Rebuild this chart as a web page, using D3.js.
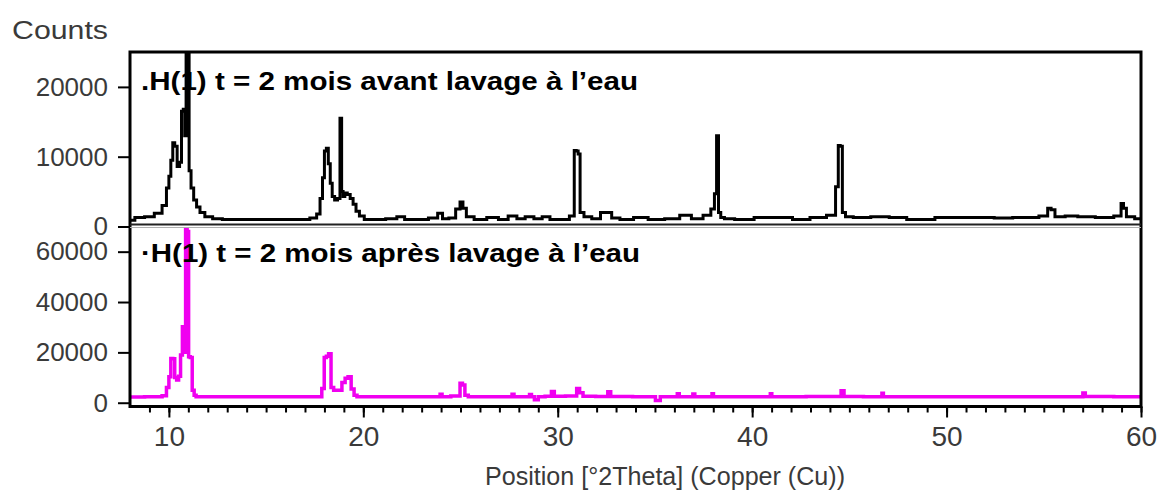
<!DOCTYPE html>
<html>
<head>
<meta charset="utf-8">
<script src="https://cdn.jsdelivr.net/npm/d3@7/dist/d3.min.js"></script>
<style>
  html, body { margin: 0; padding: 0; background: #fff; }
  svg { display: block; }
  text { font-family: "Liberation Sans", Arial, sans-serif; }
</style>
</head>
<body>
<svg id="chart" width="1161" height="492"></svg>
<script>
// ---------- data ----------
const topTitle = ".H(1) t = 2 mois avant lavage à l\u2019eau";
const botTitle = "\u00b7H(1) t = 2 mois après lavage à l\u2019eau";
const yLabel = "Counts";
const xLabel = "Position [°2Theta] (Copper (Cu))";

const xTicks = [10, 20, 30, 40, 50, 60];
const topYTicks = [0, 10000, 20000];
const botYTicks = [0, 20000, 40000, 60000];

const topTheta = [8.0, 8.5, 9.0, 9.5, 9.8, 9.95, 10.05, 10.15, 10.25, 10.35, 10.5, 10.6, 10.7, 10.78, 10.85, 10.92, 11.0, 11.08, 11.2, 11.35, 11.5, 11.7, 12.0, 12.5, 13, 14, 15, 16, 17, 17.5, 17.7, 17.85, 17.95, 18.05, 18.15, 18.25, 18.35, 18.45, 18.6, 18.75, 18.85, 18.92, 19.0, 19.1, 19.25, 19.4, 19.55, 19.7, 19.9, 20.2, 20.8, 21.5, 21.95, 22.3, 23.0, 23.7, 23.95, 24.2, 24.6, 24.9, 25.05, 25.2, 25.4, 26.0, 26.7, 27.2, 27.7, 28.1, 28.55, 29.0, 29.4, 29.8, 30.4, 30.8, 30.9, 31.0, 31.1, 31.2, 31.5, 32.0, 32.4, 32.65, 32.9, 33.5, 34.3, 35.0, 36.0, 36.55, 37.2, 37.75, 38.0, 38.12, 38.22, 38.32, 38.45, 38.7, 39.5, 40.7, 41.65, 42.5, 43.45, 44.2, 44.38, 44.48, 44.58, 44.7, 44.9, 45.5, 46.7, 47.4, 48.5, 50.3, 51.7, 53.2, 53.6, 54.4, 55.1, 55.3, 55.45, 55.7, 56.5, 57.0, 58.3, 58.9, 59.05, 59.15, 59.35, 60];
const topCounts = [900, 1300, 1400, 1900, 3000, 5500, 7200, 9500, 12000, 11500, 8600, 9200, 16500, 16800, 13000, 29000, 26000, 8000, 5500, 3800, 2800, 2000, 1400, 1100, 1000, 1000, 1000, 1000, 1000, 1200, 1800, 4000, 7000, 10800, 11200, 9000, 6200, 4300, 3800, 4000, 15500, 5000, 4300, 4800, 4600, 4000, 3200, 2200, 1500, 1000, 1000, 1100, 1400, 1000, 1000, 1200, 1900, 1100, 1200, 2500, 3500, 2600, 1400, 1000, 1300, 1000, 1500, 1100, 1400, 1100, 1400, 1000, 1000, 1500, 10900, 10800, 10400, 2000, 1400, 1100, 2000, 2000, 1200, 1000, 1300, 1000, 1100, 1600, 1100, 1600, 2500, 4700, 13000, 2000, 1300, 1100, 1000, 1300, 1300, 1000, 1300, 1600, 5700, 11600, 11500, 2000, 1400, 1300, 1400, 1300, 1000, 1300, 1300, 1200, 1300, 1300, 1500, 2600, 2400, 1400, 1500, 1400, 1300, 1500, 3300, 2600, 1400, 1100];

const botTheta = [8.0, 9.5, 9.8, 9.95, 10.05, 10.15, 10.25, 10.35, 10.45, 10.55, 10.65, 10.74, 10.82, 10.9, 10.98, 11.05, 11.15, 11.25, 11.35, 11.45, 12, 17.8, 17.93, 18.05, 18.15, 18.28, 18.4, 18.55, 18.8, 19.0, 19.13, 19.3, 19.45, 19.6, 19.75, 23.9, 24.0, 24.1, 24.9, 25.05, 25.15, 25.3, 25.5, 27.6, 27.7, 27.8, 28.5, 28.6, 28.7, 28.9, 29.1, 29.6, 29.75, 29.9, 30.9, 31.05, 31.2, 31.4, 32.5, 32.65, 32.8, 34.9, 35.15, 35.4, 36.1, 36.2, 36.3, 36.9, 37.0, 37.1, 37.9, 37.97, 38.05, 40.9, 40.97, 41.05, 44.5, 44.65, 44.8, 46.65, 46.7, 46.8, 56.95, 57.07, 57.2, 60];
const botCounts = [2300, 2400, 2800, 6000, 10300, 17600, 17500, 10000, 9000, 10500, 19000, 30200, 20000, 69000, 68000, 18300, 18000, 5000, 3000, 2400, 2400, 2400, 5700, 18000, 18500, 19500, 6000, 5000, 5000, 8000, 9700, 10300, 5500, 3000, 2400, 2400, 3400, 2400, 2700, 7700, 7000, 3000, 2400, 2400, 3400, 2400, 2400, 3300, 2400, 1200, 2400, 2600, 4500, 2600, 2700, 5700, 4000, 2600, 2500, 4400, 2500, 2400, 900, 2400, 2400, 3600, 2400, 2400, 3500, 2400, 2400, 3600, 2400, 2400, 3600, 2400, 2500, 4800, 2500, 2400, 3800, 2400, 2400, 3900, 2500, 2400];

// ---------- layout ----------
const svg = d3.select("#chart");
const left = 130, right = 1141;
const plotTop = 52, sepY = 224.5, plotBottom = 406.5;

const x = d3.scaleLinear().domain([8, 60]).range([left, right]);
const yTop = d3.scaleLinear().domain([0, 25000]).range([226.5, 52]);
const yBot = d3.scaleLinear().domain([-1300, 69400]).range([406, 228]);

const labelColor = "#3a3a3a";

// clip paths
const defs = svg.append("defs");
defs.append("clipPath").attr("id", "clipTop").append("rect")
  .attr("x", left).attr("y", plotTop).attr("width", right - left).attr("height", sepY - plotTop);
defs.append("clipPath").attr("id", "clipBot").append("rect")
  .attr("x", left).attr("y", sepY + 1).attr("width", right - left).attr("height", plotBottom - sepY - 1);

// lines
const topData = topTheta.map((t, i) => [t, topCounts[i]]);
const botData = botTheta.map((t, i) => [t, botCounts[i]]);

svg.append("path")
  .datum(topData)
  .attr("clip-path", "url(#clipTop)")
  .attr("fill", "none")
  .attr("stroke", "#000")
  .attr("stroke-width", 3)
  .attr("d", d3.line().x(d => x(d[0])).y(d => yTop(d[1])).curve(d3.curveStep));

svg.append("path")
  .datum(botData)
  .attr("clip-path", "url(#clipBot)")
  .attr("fill", "none")
  .attr("stroke", "#f000f0")
  .attr("stroke-width", 3.5)
  .attr("d", d3.line().x(d => x(d[0])).y(d => yBot(d[1])).curve(d3.curveStep));

// frame (outer) and separator between panels
svg.append("rect")
  .attr("x", left).attr("y", plotTop).attr("width", right - left).attr("height", plotBottom - plotTop)
  .attr("fill", "none").attr("stroke", "#000").attr("stroke-width", 3);
svg.append("line")
  .attr("x1", left).attr("x2", right).attr("y1", sepY).attr("y2", sepY)
  .attr("stroke", "#222").attr("stroke-width", 2.2);
svg.append("line")
  .attr("x1", left).attr("x2", right).attr("y1", sepY + 3).attr("y2", sepY + 3)
  .attr("stroke", "#b0b0b0").attr("stroke-width", 1);

// y axes
function styleAxis(g, size) {
  g.select(".domain").remove();
  g.selectAll(".tick line").attr("stroke", "#000").attr("stroke-width", 2);
  g.selectAll(".tick text").attr("fill", labelColor).style("font-size", size + "px")
    .style("font-family", "'Liberation Sans', Arial, sans-serif");
}
svg.append("g").attr("transform", `translate(${left},0)`)
  .call(d3.axisLeft(yTop).tickValues(topYTicks).tickFormat(d3.format("d")).tickSize(12).tickPadding(10))
  .call(g => styleAxis(g, 26));
svg.append("g").attr("transform", `translate(${left},0)`)
  .call(d3.axisLeft(yBot).tickValues(botYTicks).tickFormat(d3.format("d")).tickSize(12).tickPadding(10))
  .call(g => styleAxis(g, 26));

// x axis: minor + major
svg.append("g").attr("transform", `translate(0,${plotBottom})`)
  .call(d3.axisBottom(x).tickValues(d3.range(9, 61)).tickSize(6).tickFormat(""))
  .call(g => styleAxis(g, 10));
svg.append("g").attr("transform", `translate(0,${plotBottom})`)
  .call(d3.axisBottom(x).tickValues(xTicks).tickSize(11).tickPadding(9).tickFormat(d3.format("d")))
  .call(g => styleAxis(g, 28));

// texts
svg.append("text").attr("x", 12).attr("y", 39).attr("fill", labelColor)
  .attr("textLength", 96).attr("lengthAdjust", "spacingAndGlyphs")
  .style("font-size", "26px").text(yLabel);

svg.append("text").attr("x", 485).attr("y", 485).attr("fill", labelColor)
  .attr("textLength", 360).attr("lengthAdjust", "spacingAndGlyphs")
  .style("font-size", "25px").text(xLabel);

svg.append("text").attr("x", 141).attr("y", 90).attr("fill", "#000")
  .attr("textLength", 497).attr("lengthAdjust", "spacingAndGlyphs")
  .style("font-size", "25px").style("font-weight", "bold").text(topTitle);

svg.append("text").attr("x", 141).attr("y", 262).attr("fill", "#000")
  .attr("textLength", 499).attr("lengthAdjust", "spacingAndGlyphs")
  .style("font-size", "25px").style("font-weight", "bold").text(botTitle);
</script>
</body>
</html>
